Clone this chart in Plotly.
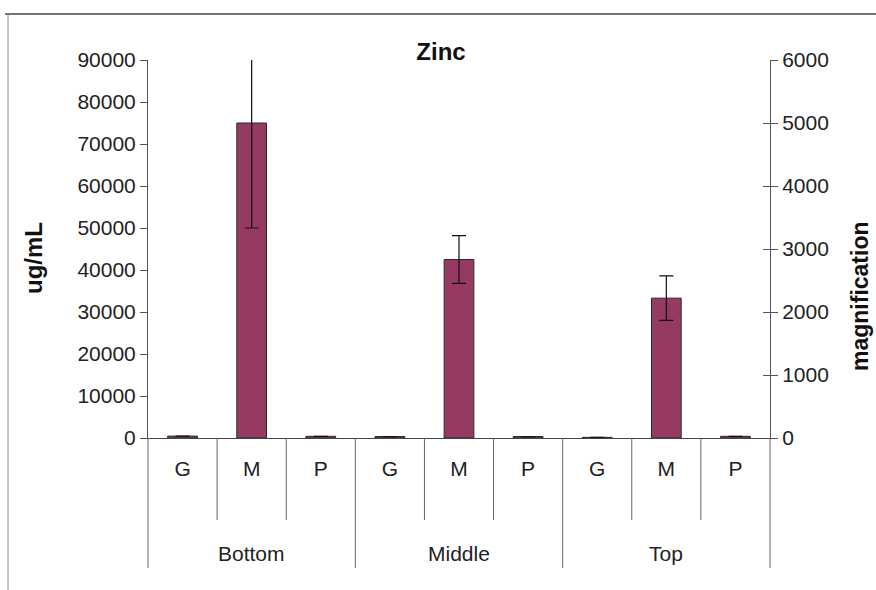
import plotly.graph_objects as go

# ---- data ----
groups = ["Bottom", "Middle", "Top"]
subcats = ["G", "M", "P"]
bottom_vals = [450, 75000, 400]
middle_vals = [350, 42500, 350]
top_vals = [150, 33300, 400]
bottom_err = [None, 25000, None]
middle_err = [None, 5700, None]
top_err = [None, 5300, None]

y_left_ticks = [0, 10000, 20000, 30000, 40000, 50000, 60000, 70000, 80000, 90000]
y_right_ticks = [0, 1000, 2000, 3000, 4000, 5000, 6000]

values = bottom_vals + middle_vals + top_vals
errors = bottom_err + middle_err + top_err
labels = subcats * len(groups)
xpos = list(range(len(values)))
n = len(values)

W, H = 876, 590
ML, MR, MT, MB = 148, 106, 60, 152
PW, PH = W - ML - MR, H - MT - MB

def px_to_paper_y(py):
    return (H - MB - py) / PH

def px_to_paper_x(px):
    return (px - ML) / PW

BAR = "#953a62"
LINE = "#555555"
TICK_SIZE = 21
TITLE_SIZE = 24

fig = go.Figure()
fig.add_trace(go.Bar(
    x=xpos, y=values, width=0.43,
    marker=dict(color=BAR, line=dict(color="#2a2a2a", width=1)),
    error_y=dict(type="data", array=errors, visible=True, color="#111111",
                 thickness=1.2, width=7),
    showlegend=False, hoverinfo="y"))
# empty traces so the two right-hand axes exist
fig.add_trace(go.Scatter(x=[], y=[], yaxis="y2", showlegend=False))
fig.add_trace(go.Scatter(x=[], y=[], yaxis="y3", showlegend=False))

font_family = "Liberation Sans, Arial, sans-serif"

fig.update_layout(
    width=W, height=H,
    margin=dict(l=ML, r=MR, t=MT, b=MB, autoexpand=False),
    paper_bgcolor="white", plot_bgcolor="white",
    font=dict(family=font_family, size=TICK_SIZE, color="#222222"),
    showlegend=False,
    title=dict(text="<b>Zinc</b>", x=441 / W, xref="container", xanchor="center",
               y=1 - 52 / H, yref="container", yanchor="middle",
               font=dict(size=TITLE_SIZE, color="#111111")),
    xaxis=dict(range=[-0.5, n - 0.5], tickmode="array", tickvals=xpos, ticktext=labels,
               ticks="", showline=True, linecolor="#444444", linewidth=1,
               showgrid=False, zeroline=False, ticklabelstandoff=12,
               tickfont=dict(size=TICK_SIZE)),
    yaxis=dict(range=[0, 90000], tickmode="array", tickvals=y_left_ticks, tickformat="d",
               ticks="outside", ticklen=7, tickcolor=LINE, showline=True,
               linecolor=LINE, linewidth=1, showgrid=False, zeroline=False,
               tickfont=dict(size=TICK_SIZE)),
    yaxis2=dict(range=[0, 6000], overlaying="y", side="right", anchor="x",
                tickmode="array", tickvals=y_right_ticks, tickformat="d",
                ticks="outside", ticklen=7, tickcolor=LINE, showline=True,
                linecolor=LINE, linewidth=1, showgrid=False, zeroline=False,
                tickfont=dict(size=TICK_SIZE)),
    yaxis3=dict(range=[0, 6000], overlaying="y", side="right", anchor="x",
                tickmode="array", tickvals=y_right_ticks, ticks="inside", ticklen=7,
                tickcolor=LINE, showticklabels=False, showline=False,
                showgrid=False, zeroline=False),
)

shapes = []
gsize = len(subcats)
sep_end = px_to_paper_y(520)
div_end = px_to_paper_y(568)
for b in range(n + 1):
    xb = b - 0.5
    xp = (xb + 0.5) / n
    is_group = (b % gsize == 0)
    shapes.append(dict(type="line", xref="paper", yref="paper",
                       x0=xp, x1=xp, y0=0, y1=div_end if is_group else sep_end,
                       line=dict(color="#666666", width=1)))
# outer chart frame (top and left edges visible in the reference)
shapes.append(dict(type="line", xref="paper", yref="paper",
                   x0=px_to_paper_x(5), x1=px_to_paper_x(W), y0=px_to_paper_y(14), y1=px_to_paper_y(14),
                   line=dict(color="#444444", width=1.5)))
shapes.append(dict(type="line", xref="paper", yref="paper",
                   x0=px_to_paper_x(8), x1=px_to_paper_x(8), y0=px_to_paper_y(14), y1=px_to_paper_y(H),
                   line=dict(color="#888888", width=1)))
fig.update_layout(shapes=shapes)

annotations = []
for gi, g in enumerate(groups):
    center = gi * gsize + (gsize - 1) / 2
    annotations.append(dict(text=g, xref="paper", yref="paper",
                            x=(center + 0.5) / n, y=px_to_paper_y(553),
                            xanchor="center", yanchor="middle", showarrow=False,
                            font=dict(size=TICK_SIZE, color="#222222")))
# axis titles
annotations.append(dict(text="<b>ug/mL</b>", xref="paper", yref="paper",
                        x=px_to_paper_x(33), y=px_to_paper_y(258), textangle=-90,
                        xanchor="center", yanchor="middle", showarrow=False,
                        font=dict(size=TITLE_SIZE, color="#111111")))
annotations.append(dict(text="<b>magnification</b>", xref="paper", yref="paper",
                        x=px_to_paper_x(860), y=px_to_paper_y(296), textangle=-90,
                        xanchor="center", yanchor="middle", showarrow=False,
                        font=dict(size=TITLE_SIZE - 1, color="#111111")))
fig.update_layout(annotations=annotations)

fig.write_html("out.html")
